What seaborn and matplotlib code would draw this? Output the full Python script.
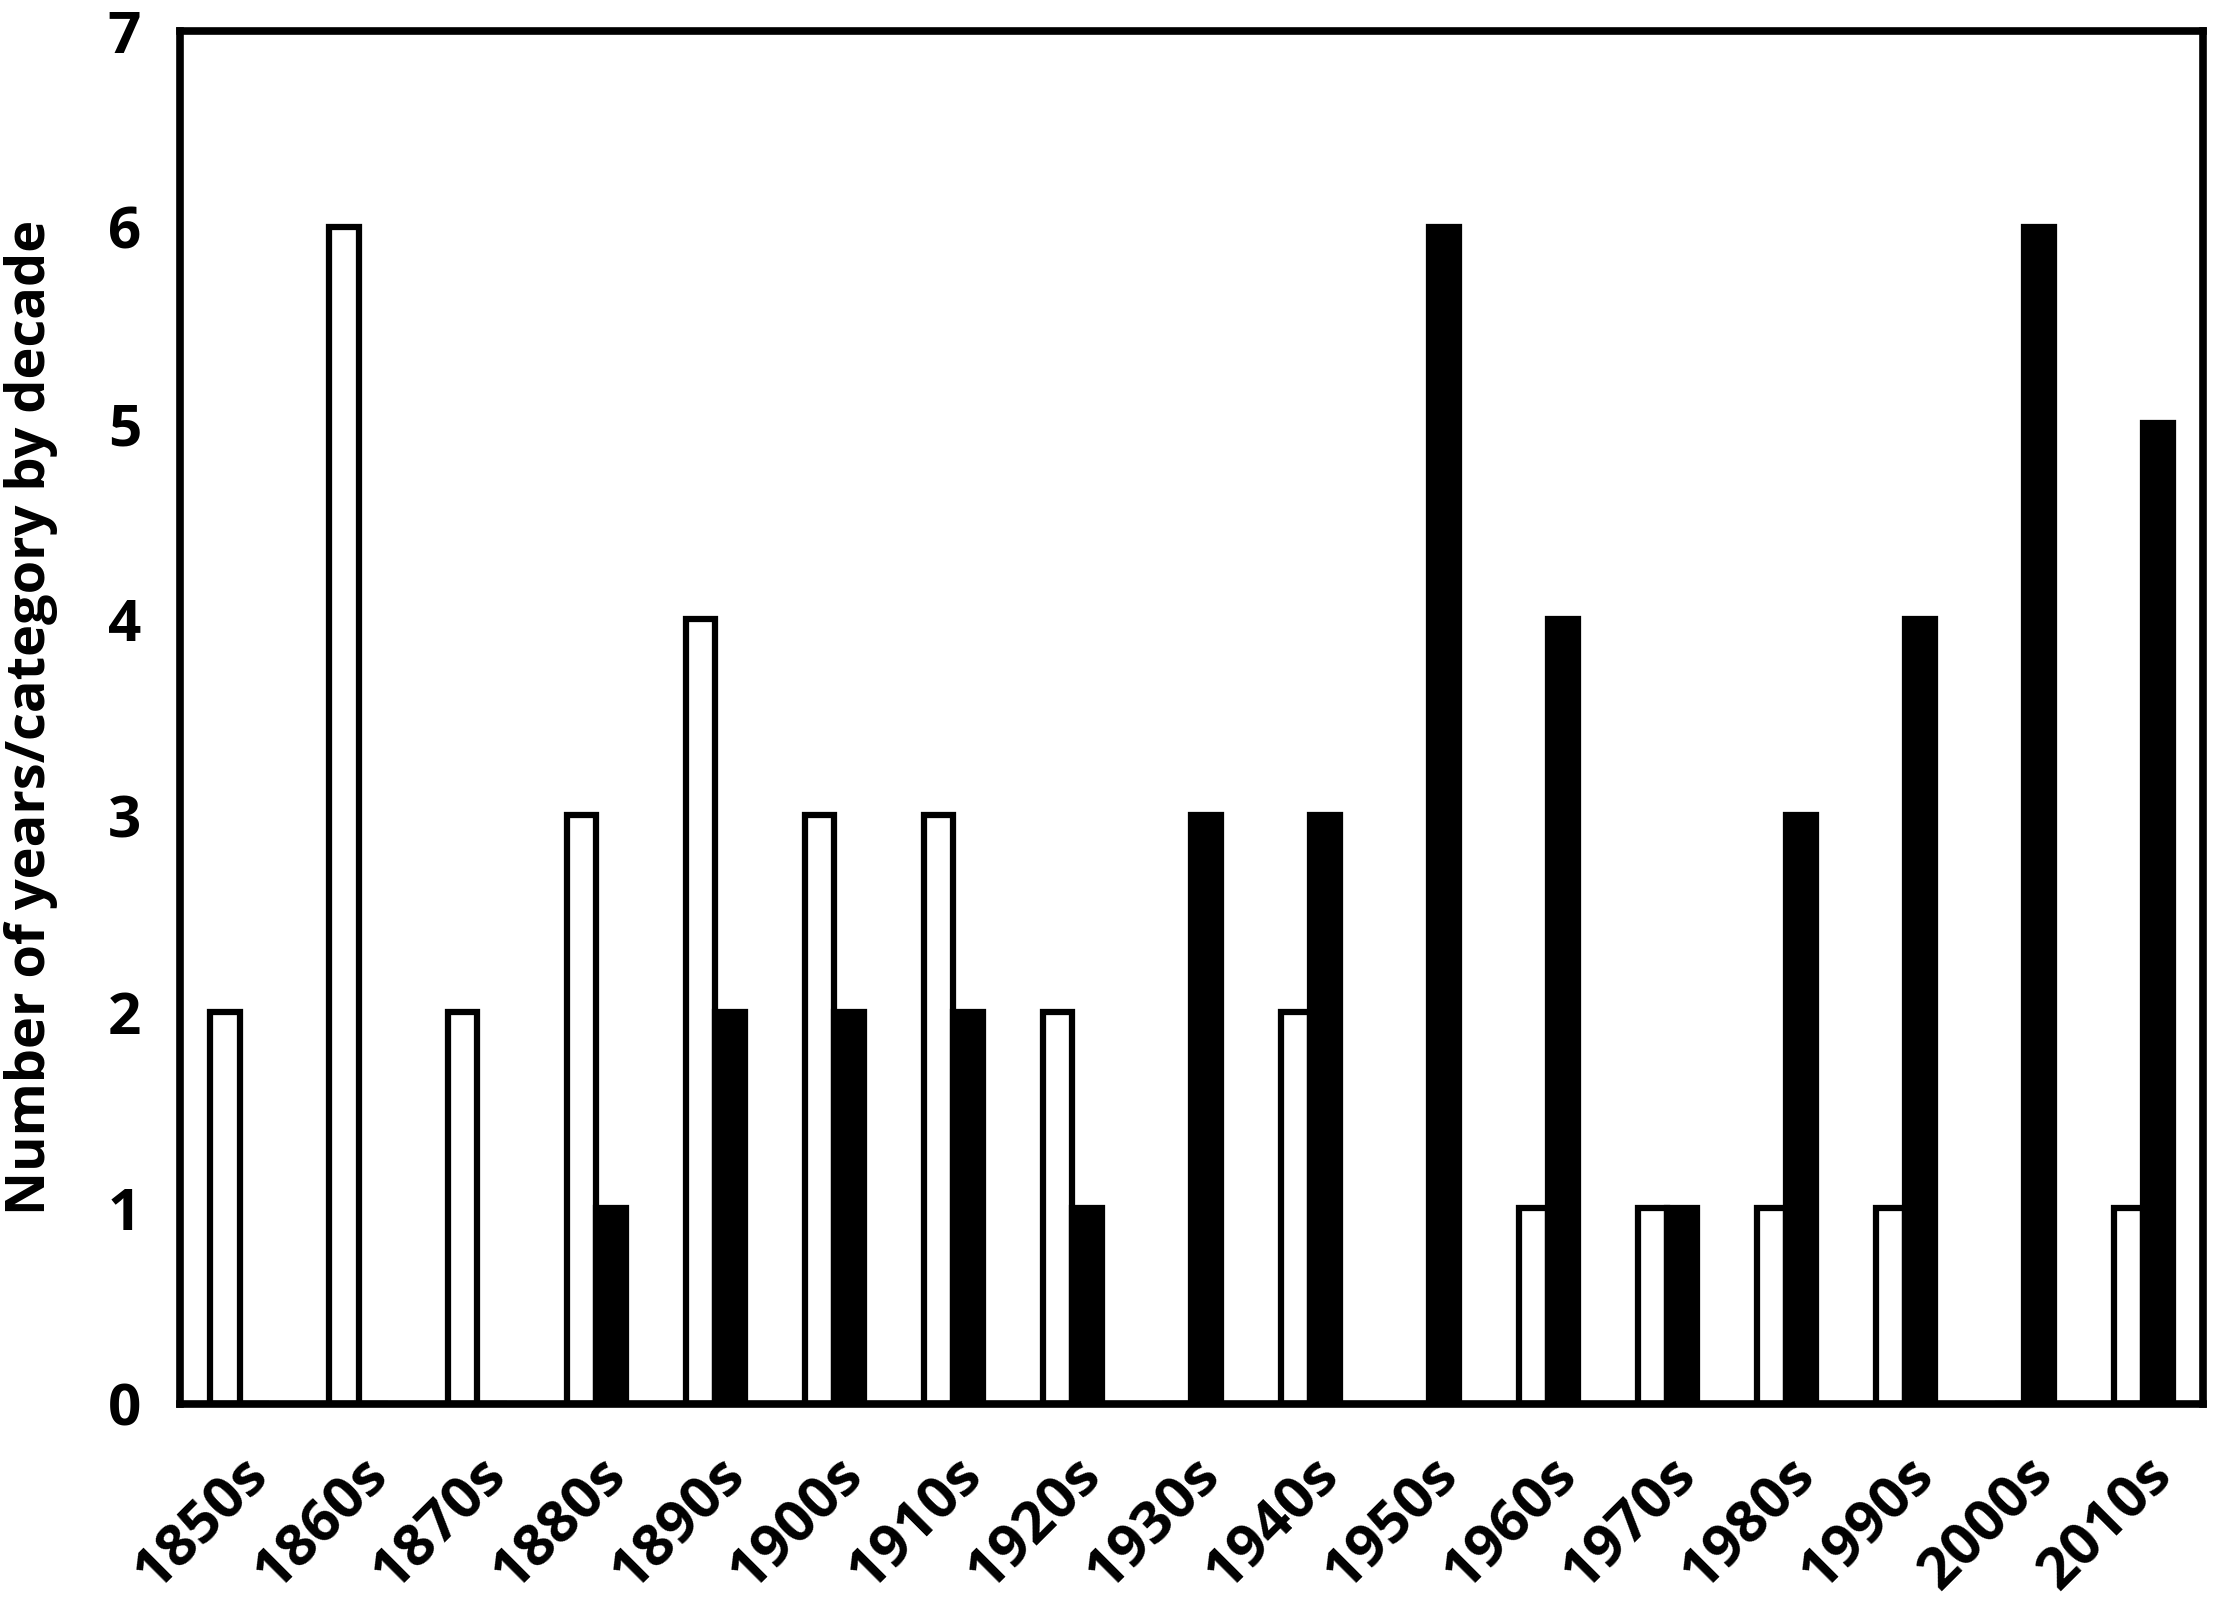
import pandas as pd
import numpy as np
import matplotlib
matplotlib.use("Agg")
import matplotlib.pyplot as plt
import seaborn as sns

# data
decades = ["1850s", "1860s", "1870s", "1880s", "1890s", "1900s", "1910s", "1920s", "1930s",
           "1940s", "1950s", "1960s", "1970s", "1980s", "1990s", "2000s", "2010s"]
open_counts = [2, 6, 2, 3, 4, 3, 3, 2, 0, 2, 0, 1, 1, 1, 1, 0, 1]
filled_counts = [0, 0, 0, 1, 2, 2, 2, 1, 3, 3, 6, 4, 1, 3, 4, 6, 5]

df = pd.DataFrame({
    "decade": decades * 2,
    "count": open_counts + filled_counts,
    "category": ["Category 1"] * len(decades) + ["Category 2"] * len(decades),
})

sns.set_style("white")
plt.rcParams['font.family'] = ['Open Sans', 'DejaVu Sans']
plt.rcParams['font.weight'] = 'bold'
plt.rcParams['text.color'] = 'black'
plt.rcParams['axes.labelcolor'] = 'black'
plt.rcParams['xtick.color'] = 'black'
plt.rcParams['ytick.color'] = 'black'

fig = plt.figure(figsize=(22.17, 16.11), dpi=100)
ax = fig.add_axes([0.0812, 0.1285, 0.9124, 0.8525])

sns.barplot(data=df, x="decade", y="count", hue="category", order=decades,
            palette=["white", "black"], edgecolor="black", linewidth=4.5,
            width=0.5, gap=0, legend=False, ax=ax)

ax.set_ylim(0, 7)
ax.set_xlim(-0.5, len(decades) - 0.5)
ax.set_yticks(range(0, 8))
ax.set_xlabel("")
ax.set_ylabel("Number of years/category by decade", fontsize=39, fontweight='bold',
              labelpad=36, color='black')
ax.tick_params(axis='y', length=0, pad=28, labelsize=42, labelcolor='black')
ax.tick_params(axis='x', length=0, pad=30, labelsize=42, labelcolor='black')
for lab in ax.get_yticklabels():
    lab.set_fontweight('bold')
for lab in ax.get_xticklabels():
    lab.set_fontweight('bold')
    lab.set_rotation(45)
    lab.set_ha('right')
    lab.set_rotation_mode('anchor')

for sp in ax.spines.values():
    sp.set_visible(True)
    sp.set_color('black')
    sp.set_linewidth(5.5)

fig.savefig("out.png", dpi=100, facecolor="white")
